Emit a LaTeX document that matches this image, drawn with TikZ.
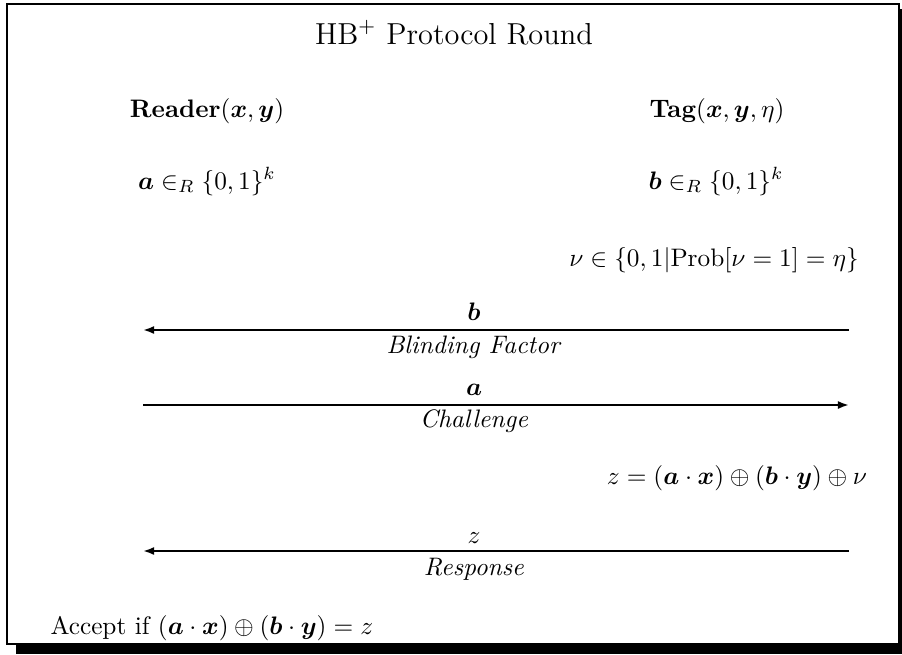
\documentclass[tikz,border=0pt]{standalone}
\usepackage{bm}
\usetikzlibrary{arrows.meta,positioning}

\begin{document}
\begin{tikzpicture}[x=0.3953pt,y=-0.3953pt,inner sep=0pt,
    msg/.style={thick,-{Latex[length=4.4pt,width=3.2pt]}}]
  \useasboundingbox (0,0) rectangle (902,654);
  % shadowed frame
  \fill (16,644) rectangle (902,654);
  \fill (899,9) rectangle (902,654);
  \draw[thick] (7,4) rectangle (899,644);
  \node[font=\large,anchor=base] (title) at (454,44) {HB$^+$ Protocol Round};
  \node[anchor=base] (reader) at (207,117) {\textbf{Reader}$(\bm{x},\bm{y})$};
  \node[anchor=base] (tag) at (717,117) {\textbf{Tag}$(\bm{x},\bm{y},\eta)$};
  \node[anchor=base] (nonce-a) at (207,189) {$\bm{a} \in_R \{0,1\}^k$};
  \node[anchor=base] (nonce-b) at (716,189) {$\bm{b} \in_R \{0,1\}^k$};
  \node[anchor=base] (noise) at (714,266) {$\nu \in \{0,1|\mathrm{Prob}[\nu=1]=\eta\}$};
  \coordinate (reader-1) at (143,330);
  \coordinate (tag-1) at (849,330);
  \coordinate (reader-2) at (143,405);
  \coordinate (tag-2) at (849,405);
  \coordinate (reader-3) at (143,551);
  \coordinate (tag-3) at (849,551);
  \draw[msg] (tag-1) -- (reader-1);
  \node[anchor=base] (lbl-b) at (474,320) {$\bm{b}$};
  \node[anchor=base] (txt-b) at (474,353) {\textit{Blinding Factor}};
  \draw[msg] (reader-2) -- (tag-2);
  \node[anchor=base] (lbl-a) at (474,395) {$\bm{a}$};
  \node[anchor=base] (txt-a) at (474,427) {\textit{Challenge}};
  \node[anchor=base] (resp) at (737,484) {$z = (\bm{a}\cdot\bm{x}) \oplus (\bm{b}\cdot\bm{y}) \oplus \nu$};
  \draw[msg] (tag-3) -- (reader-3);
  \node[anchor=base] (lbl-z) at (474,543) {$z$};
  \node[anchor=base] (txt-z) at (474,575) {\textit{Response}};
  \node[anchor=base west] (accept) at (50,634) {Accept if $(\bm{a}\cdot\bm{x}) \oplus (\bm{b}\cdot\bm{y}) = z$};
\end{tikzpicture}
\end{document}
